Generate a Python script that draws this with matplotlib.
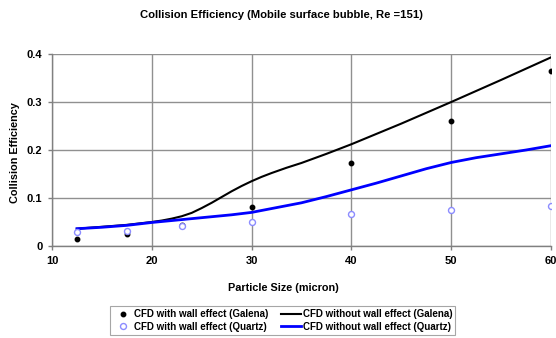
import matplotlib
matplotlib.use("Agg")
import matplotlib.pyplot as plt
from matplotlib.lines import Line2D

plt.rcParams['font.family'] = ['Liberation Sans', 'DejaVu Sans']
plt.rcParams['font.weight'] = 'bold'

# Scatter data (CFD with wall effect)
x_pts = [12.5, 17.5, 23, 30, 40, 50, 60]
galena_wall = [0.014, 0.025, 0.044, 0.081, 0.172, 0.261, 0.365]
quartz_wall = [0.029, 0.031, 0.042, 0.049, 0.066, 0.074, 0.083]

# Lines (CFD without wall effect)
x_black = [12.5, 15, 17.5, 20, 21, 22, 23, 24, 25, 26, 27, 28, 29, 30, 31, 32, 33.5, 35,
           37.5, 40, 45, 50, 55, 60]
galena_nowall = [0.036, 0.040, 0.044, 0.050, 0.053, 0.057, 0.062, 0.069, 0.079, 0.090,
                 0.102, 0.114, 0.125, 0.135, 0.144, 0.152, 0.163, 0.173, 0.192, 0.212,
                 0.255, 0.300, 0.346, 0.393]
x_blue = [12.5, 15, 17.5, 20, 24, 28, 30, 32, 35, 37.5, 40, 42.5, 45, 47.5, 50, 52.5, 55,
          57.5, 60]
quartz_nowall = [0.036, 0.039, 0.043, 0.049, 0.057, 0.065, 0.070, 0.078, 0.090, 0.103,
                 0.117, 0.131, 0.146, 0.161, 0.174, 0.184, 0.192, 0.200, 0.209]

fig = plt.figure(figsize=(5.56, 3.38), dpi=100)
ax = fig.add_axes([0.0935, 0.2722, 0.8975, 0.568])

ax.plot(x_black, galena_nowall, color='black', lw=1.5, zorder=3)
ax.plot(x_blue, quartz_nowall, color='#0000ff', lw=2.0, zorder=3)
ax.plot(x_pts, galena_wall, 'o', color='black', ms=3.2, zorder=4)
ax.plot(x_pts, quartz_wall, 'o', mfc='white', mec='#8c8cff', mew=1.0, ms=4.3, zorder=4)

ax.set_xlim(10, 60)
ax.set_ylim(0, 0.4)
ax.set_xticks([10, 20, 30, 40, 50, 60])
ax.set_yticks([0, 0.1, 0.2, 0.3, 0.4])
ax.set_yticklabels(['0', '0.1', '0.2', '0.3', '0.4'])
ax.grid(True, color='#909090', lw=1.0)
ax.set_axisbelow(True)
for s in ['top', 'right']:
    ax.spines[s].set_visible(False)
for s in ['left', 'bottom']:
    ax.spines[s].set_color('#808080')
    ax.spines[s].set_linewidth(1.0)
ax.tick_params(axis='both', labelsize=8, color='#808080', length=3, width=1.0, pad=4)
for lab in ax.get_xticklabels() + ax.get_yticklabels():
    lab.set_fontweight('bold')

fig.text(281 / 556, 1 - 15 / 338, 'Collision Efficiency (Mobile surface bubble, Re =151)',
         ha='center', va='center', fontsize=8.1, fontweight='bold')
fig.text(283 / 556, 1 - 288 / 338, 'Particle Size (micron)',
         ha='center', va='center', fontsize=7.8, fontweight='bold')
fig.text(15 / 556, 1 - 153 / 338, 'Collision Efficiency', rotation=90,
         ha='center', va='center', fontsize=7.8, fontweight='bold')

handles = [
    Line2D([], [], ls='none', marker='o', color='black', ms=3.2),
    Line2D([], [], ls='none', marker='o', mfc='white', mec='#8c8cff', mew=1.0, ms=4.3),
    Line2D([], [], color='black', lw=1.5),
    Line2D([], [], color='#0000ff', lw=2.0),
]
labels = ['CFD with wall effect (Galena)', 'CFD with wall effect (Quartz)',
          'CFD without wall effect (Galena)', 'CFD without wall effect (Quartz)']
leg = fig.legend(handles, labels, ncol=2, loc='upper left',
                 bbox_to_anchor=(110 / 556, 1 - 306 / 338), borderaxespad=0,
                 frameon=True, fancybox=False,
                 edgecolor='#909090', borderpad=0.3, handlelength=2.0,
                 handletextpad=0.2, columnspacing=1.3, labelspacing=0.3,
                 prop={'weight': 'bold', 'size': 7})
leg.get_frame().set_linewidth(0.8)

fig.savefig('out.png', dpi=100)
